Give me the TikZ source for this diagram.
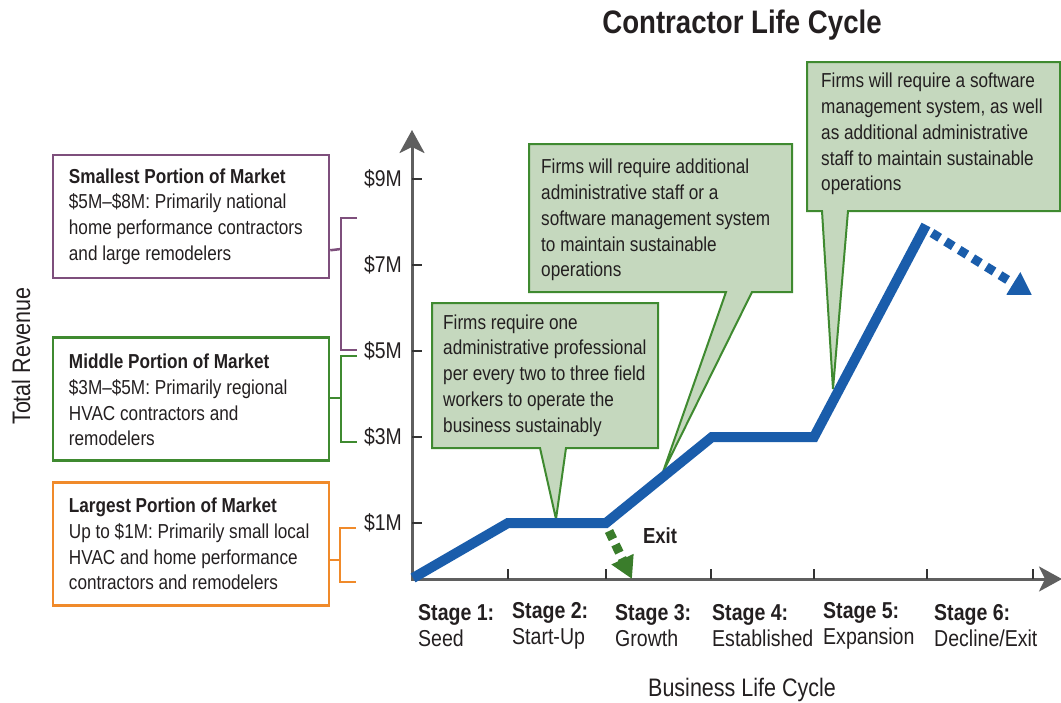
\documentclass[tikz,border=0pt]{standalone}
\usepackage{fontspec}
\setmainfont{Liberation Sans}[FakeStretch=0.85]
\usetikzlibrary{arrows.meta,calc}
\definecolor{txt}{HTML}{231F20}
\definecolor{axisgray}{HTML}{5F5F5F}
\definecolor{tickgray}{HTML}{333333}
\definecolor{lineblue}{HTML}{1A5DAB}
\definecolor{calfill}{HTML}{C5D8BE}
\definecolor{calgreen}{HTML}{3F8A30}
\definecolor{exitgreen}{HTML}{3A7D2B}
\definecolor{purp}{HTML}{7E4F7C}
\definecolor{boxgreen}{HTML}{3F8A30}
\definecolor{orng}{HTML}{F08A2A}
\begin{document}
\begin{tikzpicture}[x=1pt,y=-1pt,
  bodytext/.style={font=\fontsize{20.2}{25.8}\selectfont, text=txt, inner sep=0pt, align=left, anchor=west},
  calloutshape/.style={draw=calgreen, fill=calfill, line width=2pt, line join=miter},
  mktbox/.style={draw=#1, line width=2.5pt, minimum width=276pt, minimum height=123pt, inner sep=0pt},
  bracketline/.style={draw=#1, line width=2.5pt, line join=miter},
  axisline/.style={draw=axisgray, line width=3pt, -{Stealth[length=23pt,width=25pt,inset=6pt]}},
  tickline/.style={draw=tickgray, line width=2pt},
  ticklabel/.style={font=\fontsize{22.8}{26}\selectfont, text=txt, inner sep=0pt, anchor=east},
  stagelabel/.style={font=\fontsize{23}{26}\selectfont, text=txt, inner sep=0pt, align=left, anchor=west},
  axistitle/.style={font=\fontsize{25.3}{28}\selectfont, text=txt, inner sep=0pt},
  growth/.style={draw=lineblue, line width=10pt, line join=miter, line cap=butt},
]
\useasboundingbox (0,0) rectangle (1061,702);

% title
\node[font=\bfseries\fontsize{32.5}{36}\selectfont, text=txt, inner sep=0pt] (title) at (742,25) {Contractor Life Cycle};

% axes
\coordinate (origin) at (412,580);
\coordinate (ytop) at (412,130);
\coordinate (xend) at (1062,579);
\draw[axisline] (origin) -- (ytop);
\draw[axisline] (411,579) -- (xend);

% y ticks and labels
\foreach \v/\yy in {9/179,7/265,5/351,3/437,1/523}{
  \draw[tickline] (412,\yy) -- (422,\yy);
  \node[ticklabel] (t\v) at (402,\yy) {\$\v M};
}
% x ticks
\foreach \xx in {508,606,711,814,927,1033}{
  \draw[tickline] (\xx,569) -- (\xx,579);
}

% stage labels
\node[stagelabel] (s1) at (418,626) {\textbf{Stage 1:}\\Seed};
\node[stagelabel] (s2) at (512,626) {\textbf{Stage 2:}\\Start-Up};
\node[stagelabel] (s3) at (615,626) {\textbf{Stage 3:}\\Growth};
\node[stagelabel] (s4) at (712,626) {\textbf{Stage 4:}\\Established};
\node[stagelabel] (s5) at (823,626) {\textbf{Stage 5:}\\Expansion};
\node[stagelabel] (s6) at (934,626) {\textbf{Stage 6:}\\Decline/Exit};

% axis titles
\node[axistitle] (xtitle) at (742,690) {Business Life Cycle};
\node[axistitle, rotate=90] (ytitle) at (21,356) {Total Revenue};

% market boxes
\node[mktbox=purp] (boxS) at (191,216.5) {};
\node[bodytext] (txtS) at ($(boxS.west)+(17,0)$) {\textbf{Smallest Portion of Market}\\\$5M–\$8M: Primarily national\\home performance contractors\\and large remodelers};
\node[mktbox=boxgreen] (boxM) at (191,399) {};
\node[bodytext] (txtM) at ($(boxM.west)+(17,1)$) {\textbf{Middle Portion of Market}\\\$3M–\$5M: Primarily regional\\HVAC contractors and\\remodelers};
\node[mktbox=orng] (boxL) at (191,544) {};
\node[bodytext] (txtL) at ($(boxL.west)+(17,0)$) {\textbf{Largest Portion of Market}\\Up to \$1M: Primarily small local\\HVAC and home performance\\contractors and remodelers};

% brackets
\draw[bracketline=purp] (357,218) -- (341,218) -- (341,350) -- (357,350);
\draw[bracketline=purp] ($(boxS.south east)+(0,-29)$) -- (341,249);
\draw[bracketline=boxgreen] (357,356) -- (341,356) -- (341,442) -- (357,442);
\draw[bracketline=boxgreen] ($(boxM.east)+(0,-1)$) -- (341,398);
\draw[bracketline=orng] (356,528) -- (340,528) -- (340,582) -- (356,582);
\draw[bracketline=orng] ($(boxL.east)+(0,16)$) -- (340,560);

% callouts
\draw[calloutshape] (432,303) -- (658,303) -- (658,448) -- (566,448) -- (556,519) -- (540,448) -- (432,448) -- cycle;
\node[bodytext] (c1) at (443,375.5) {Firms require one\\administrative professional\\per every two to three field\\workers to operate the\\business sustainably};
\draw[calloutshape] (529,144) -- (792,144) -- (792,292) -- (752,292) -- (663,472) -- (726,292) -- (529,292) -- cycle;
\node[bodytext] (c2) at (541,220) {Firms will require additional\\administrative staff or a\\software management system\\to maintain sustainable\\operations};
\draw[calloutshape] (807,62) -- (1060,62) -- (1060,211) -- (848,211) -- (833,389) -- (822,211) -- (807,211) -- cycle;
\node[bodytext] (c3) at (821,134) {Firms will require a software\\management system, as well\\as additional administrative\\staff to maintain sustainable\\operations};

% growth line
\coordinate (p0) at (413,578);
\coordinate (p1) at (508,523);
\coordinate (p2) at (606,523);
\coordinate (p3) at (712,437);
\coordinate (p4) at (814,437);
\coordinate (p5) at (926,225);
\draw[growth] (p0) -- (p1) -- (p2) -- (p3) -- (p4) -- (p5);

% decline arrow
\coordinate (declinestart) at (932,233);
\coordinate (declineend) at (1032,295);
\draw[draw=lineblue, line width=9pt, dash pattern=on 9pt off 7pt, -{Triangle[length=22pt,width=25pt,fill=lineblue]}] (declinestart) -- (declineend);

% exit arrow
\coordinate (exitstart) at (609,531);
\coordinate (exitend) at (632,579);
\draw[draw=exitgreen, line width=9pt, dash pattern=on 9pt off 6pt, -{Triangle[length=22pt,width=23pt,fill=exitgreen]}] (exitstart) -- (exitend);
\node[font=\bfseries\fontsize{21.8}{24}\selectfont, text=txt, inner sep=0pt] (exit) at (660,536) {Exit};

\end{tikzpicture}
\end{document}
